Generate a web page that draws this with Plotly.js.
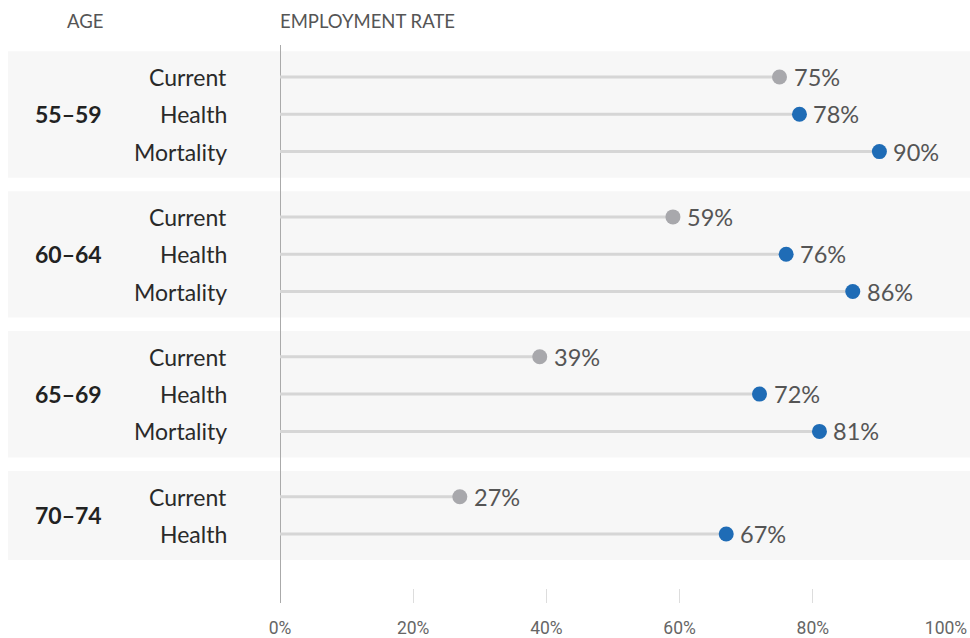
<!DOCTYPE html>
<html>
<head>
<meta charset="utf-8">
<script src="https://cdn.plot.ly/plotly-3.0.1.min.js"></script>
<style>html,body{margin:0;padding:0;background:#fff;}#chart{width:970px;height:638px;}</style>
</head>
<body>
<div id="chart"></div>
<script>
// ---- data ----
const ageGroups = ['55–59', '60–64', '65–69', '70–74'];
const scenarioNames = ['Current', 'Health', 'Mortality'];
const currentRate = [75, 59, 39, 27];
const healthRate = [78, 76, 72, 67];
const mortalityRate = [90, 86, 81]; // no Mortality row for 70–74
const tickValues = [0, 20, 40, 60, 80, 100];
const tickLabels = ['0%', '20%', '40%', '60%', '80%', '100%'];

// ---- layout helpers ----
const GROUP_PITCH = 3.75;
const Y_TOP = -0.858, Y_BOTTOM = 14.10;
const L = 280, R = 24, T = 45, B = 35, W = 970, H = 638;
const plotW = W - L - R, plotH = H - T - B;
const pxToPaperX = px => (px - L) / plotW;
const uToPaperY = u => (Y_BOTTOM - u) / (Y_BOTTOM - Y_TOP);

const seriesList = [currentRate, healthRate, mortalityRate];
const rows = []; // {group, scen, value, y}
ageGroups.forEach((g, gi) => {
  let r = 0;
  seriesList.forEach((arr, si) => {
    if (arr[gi] !== undefined) {
      rows.push({group: gi, scen: si, value: arr[gi], y: gi * GROUP_PITCH + r});
      r++;
    }
  });
});

const GRAY = '#a8a8ac', BLUE = '#1f6cb6';
const traces = [];
// stems
const sx = [], sy = [];
rows.forEach(d => { sx.push(0, d.value, null); sy.push(d.y, d.y, null); });
traces.push({type: 'scatter', mode: 'lines', x: sx, y: sy, line: {color: '#d6d6d6', width: 3},
  hoverinfo: 'skip', showlegend: false, cliponaxis: false});
// dots
const cur = rows.filter(d => d.scen === 0), oth = rows.filter(d => d.scen !== 0);
traces.push({type: 'scatter', mode: 'markers', x: cur.map(d => d.value), y: cur.map(d => d.y),
  marker: {color: GRAY, size: 15}, showlegend: false, cliponaxis: false});
traces.push({type: 'scatter', mode: 'markers', x: oth.map(d => d.value), y: oth.map(d => d.y),
  marker: {color: BLUE, size: 15}, showlegend: false, cliponaxis: false});

const FONT = 'Lato, "Noto Sans", sans-serif';
const annotations = [];
const shapes = [];
rows.forEach(d => {
  annotations.push({xref: 'x', yref: 'y', x: d.value, y: d.y, text: d.value + '%', showarrow: false,
    xanchor: 'left', yanchor: 'middle', xshift: 12, font: {family: FONT, size: 23.5, weight: 400, color: '#555'}});
  annotations.push({xref: 'paper', yref: 'y', x: pxToPaperX(229), y: d.y, text: scenarioNames[d.scen], showarrow: false,
    xanchor: 'right', yanchor: 'middle', font: {family: FONT, size: 23, weight: 400, color: '#2a2a2a'}});
});
ageGroups.forEach((g, gi) => {
  const gr = rows.filter(d => d.group === gi);
  const y0 = gr[0].y, y1 = gr[gr.length - 1].y;
  annotations.push({xref: 'paper', yref: 'y', x: pxToPaperX(104), y: (y0 + y1) / 2, text: '<b>' + g + '</b>', showarrow: false,
    xanchor: 'right', yanchor: 'middle', font: {family: FONT, size: 23, color: '#222'}});
  shapes.push({type: 'rect', xref: 'paper', yref: 'paper', layer: 'below',
    x0: pxToPaperX(8), x1: pxToPaperX(970), y0: uToPaperY(y1 + 0.70), y1: uToPaperY(y0 - 0.69),
    fillcolor: '#f7f7f7', line: {width: 0}});
});
annotations.push({xref: 'paper', yref: 'paper', x: pxToPaperX(85), y: 1 + (T - 21) / plotH, text: 'AGE', showarrow: false,
  xanchor: 'center', yanchor: 'middle', font: {family: FONT, size: 18.5, weight: 400, color: '#555'}});
annotations.push({xref: 'paper', yref: 'paper', x: 0, y: 1 + (T - 21) / plotH, text: 'EMPLOYMENT RATE', showarrow: false,
  xanchor: 'left', yanchor: 'middle', xshift: -2, font: {family: FONT, size: 18.5, weight: 400, color: '#555'}});

const layout = {
  width: W, height: H,
  margin: {l: L, r: R, t: T, b: B, pad: 0},
  paper_bgcolor: '#fff', plot_bgcolor: 'rgba(0,0,0,0)',
  xaxis: {range: [0, 100], showgrid: false, zeroline: true, zerolinecolor: '#aaaaaa', zerolinewidth: 1,
    showline: false, ticks: 'inside', ticklen: 14, tickcolor: '#dddddd', tickwidth: 1,
    tickvals: tickValues, ticktext: tickLabels, fixedrange: true, ticklabelstandoff: 12,
    tickfont: {family: '"Liberation Sans Narrow", "Roboto", sans-serif', size: 17.5, color: '#666'}},
  yaxis: {range: [Y_BOTTOM, Y_TOP], showgrid: false, zeroline: false, showticklabels: false, ticks: '', showline: false, fixedrange: true},
  shapes: shapes,
  annotations: annotations,
  showlegend: false
};
Plotly.newPlot('chart', traces, layout, {displayModeBar: false, staticPlot: true});
</script>
</body>
</html>
